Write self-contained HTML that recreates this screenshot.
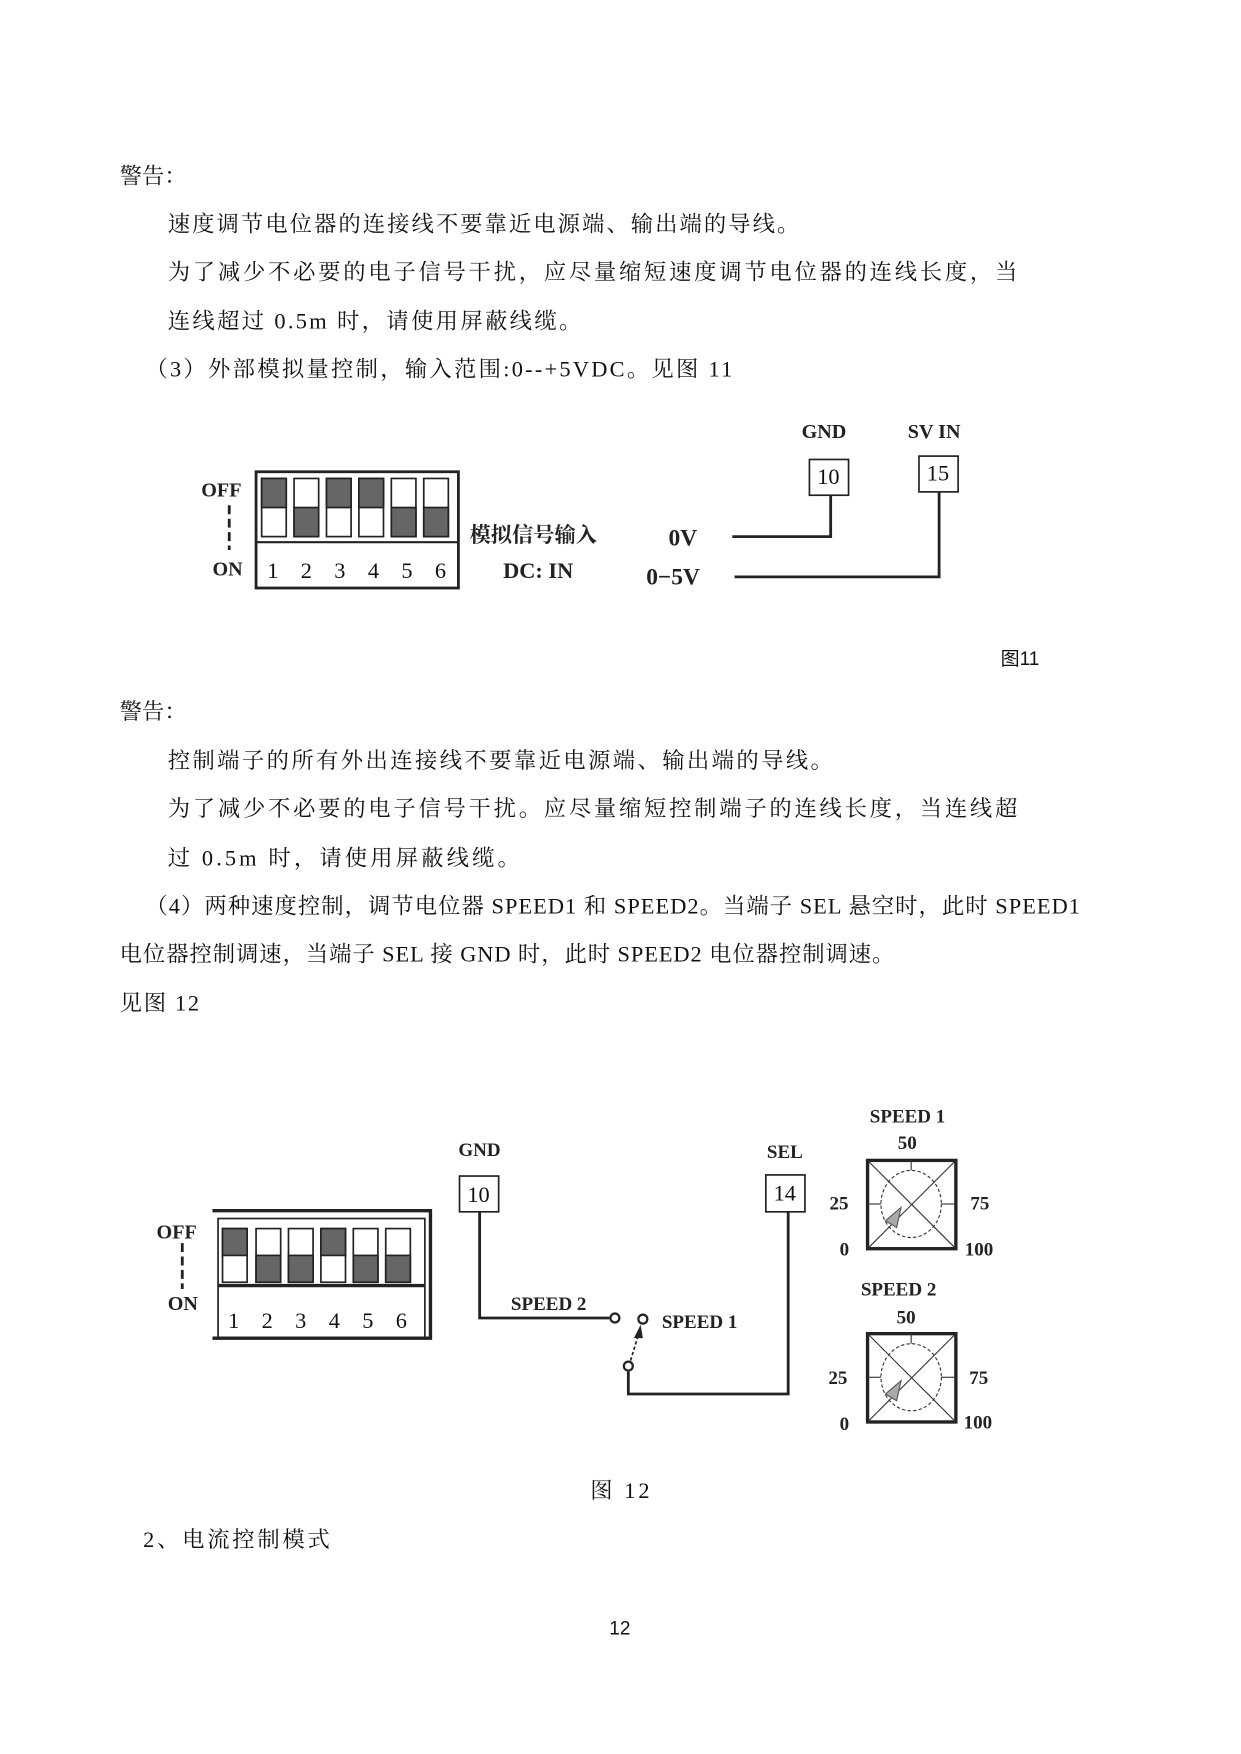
<!DOCTYPE html>
<html><head><meta charset="utf-8"><style>
html,body{margin:0;padding:0;background:#fff;}
svg{display:block}
.t{font-family:"Liberation Serif","Noto Serif CJK SC","Noto Sans CJK SC",serif;font-size:20px;fill:#111}
.s{font-family:"Liberation Sans","Noto Sans CJK SC",sans-serif;font-size:17px;fill:#111}
.d{font-family:"Liberation Serif","Noto Serif CJK SC",serif;font-weight:bold;fill:#222}
</style></head><body>
<svg width="1241" height="1754" viewBox="0 0 1110 1569" xmlns="http://www.w3.org/2000/svg">
<text class="t" x="107" y="164">警告：</text>
<text class="t" x="150" y="207" textLength="565">速度调节电位器的连接线不要靠近电源端、输出端的导线。</text>
<text class="t" x="150" y="250" textLength="760">为了减少不必要的电子信号干扰，应尽量缩短速度调节电位器的连线长度，当</text>
<text class="t" x="150" y="294" textLength="370">连线超过 0.5m 时，请使用屏蔽线缆。</text>
<text class="t" x="130" y="337" textLength="525">（3）外部模拟量控制，输入范围:0--+5VDC。见图 11</text>

<!-- Fig 11 -->
<g stroke="#222" fill="none">
<rect x="229" y="422" width="181" height="104" stroke-width="2.5"/>
<line x1="229" y1="485" x2="410" y2="485" stroke-width="2"/>
<line x1="205" y1="452" x2="205" y2="492" stroke-width="2.5" stroke-dasharray="8,4"/>
</g>
<g stroke="#222" stroke-width="1.5">
<rect x="234" y="428" width="22" height="52" fill="#fff"/><rect x="234" y="428" width="22" height="26" fill="#666"/>
<rect x="263" y="428" width="22" height="52" fill="#fff"/><rect x="263" y="454" width="22" height="26" fill="#666"/>
<rect x="292" y="428" width="22" height="52" fill="#fff"/><rect x="292" y="428" width="22" height="26" fill="#666"/>
<rect x="321" y="428" width="22" height="52" fill="#fff"/><rect x="321" y="428" width="22" height="26" fill="#666"/>
<rect x="350" y="428" width="22" height="52" fill="#fff"/><rect x="350" y="454" width="22" height="26" fill="#666"/>
<rect x="379" y="428" width="22" height="52" fill="#fff"/><rect x="379" y="454" width="22" height="26" fill="#666"/>
</g>
<text class="d" x="180" y="444" font-size="18">OFF</text>
<text class="d" x="190" y="515" font-size="18">ON</text>
<text class="t" x="239" y="517" font-size="24" letter-spacing="20">123456</text>
<text class="d" x="420" y="485" font-size="19">模拟信号输入</text>
<text class="d" x="450" y="517" font-size="20">DC: IN</text>
<text class="d" x="598" y="488" font-size="21">0V</text>
<text class="d" x="578" y="523" font-size="21">0−5V</text>
<text class="d" x="717" y="392" font-size="18">GND</text>
<text class="d" x="812" y="392" font-size="18">SV IN</text>
<g stroke="#222" fill="none" stroke-width="2.5">
<rect x="724" y="411" width="35" height="32" stroke-width="1.5"/>
<rect x="822" y="408" width="35" height="32" stroke-width="1.5"/>
<polyline points="655,480 743,480 743,443"/>
<polyline points="657,516 840,516 840,440"/>
</g>
<text class="t" x="731" y="433" font-size="18">10</text>
<text class="t" x="829" y="430" font-size="18">15</text>
<text class="s" x="895" y="595">图11</text>

<text class="t" x="107" y="643">警告：</text>
<text class="t" x="150" y="687" textLength="595">控制端子的所有外出连接线不要靠近电源端、输出端的导线。</text>
<text class="t" x="150" y="730" textLength="760">为了减少不必要的电子信号干扰。应尽量缩短控制端子的连线长度，当连线超</text>
<text class="t" x="150" y="774" textLength="315">过 0.5m 时，请使用屏蔽线缆。</text>
<text class="t" x="130" y="817" textLength="836">（4）两种速度控制，调节电位器 SPEED1 和 SPEED2。当端子 SEL 悬空时，此时 SPEED1</text>
<text class="t" x="107" y="860" textLength="693">电位器控制调速，当端子 SEL 接 GND 时，此时 SPEED2 电位器控制调速。</text>
<text class="t" x="107" y="904" textLength="71">见图 12</text>

<!-- Fig 12 -->
<g stroke="#222" fill="none">
<polyline points="190,1083 385,1083 385,1197 190,1197" stroke-width="3"/>
<rect x="195" y="1090" width="185" height="107" stroke-width="1.5"/>
<line x1="195" y1="1150" x2="380" y2="1150" stroke-width="3"/>
<line x1="163" y1="1112" x2="163" y2="1153" stroke-width="2.5" stroke-dasharray="8,4"/>
</g>
<g stroke="#222" stroke-width="1.5">
<rect x="199" y="1099" width="22" height="48" fill="#fff"/><rect x="199" y="1099" width="22" height="24" fill="#666"/>
<rect x="229" y="1099" width="22" height="48" fill="#fff"/><rect x="229" y="1123" width="22" height="24" fill="#666"/>
<rect x="258" y="1099" width="22" height="48" fill="#fff"/><rect x="258" y="1123" width="22" height="24" fill="#666"/>
<rect x="287" y="1099" width="22" height="48" fill="#fff"/><rect x="287" y="1099" width="22" height="24" fill="#666"/>
<rect x="316" y="1099" width="22" height="48" fill="#fff"/><rect x="316" y="1123" width="22" height="24" fill="#666"/>
<rect x="345" y="1099" width="22" height="48" fill="#fff"/><rect x="345" y="1123" width="22" height="24" fill="#666"/>
</g>
<text class="d" x="140" y="1108" font-size="18">OFF</text>
<text class="d" x="150" y="1172" font-size="18">ON</text>
<text class="t" x="204" y="1188" font-size="24" letter-spacing="20">123456</text>
<text class="d" x="410" y="1034" font-size="17">GND</text>
<text class="d" x="686" y="1036" font-size="17">SEL</text>
<g stroke="#222" fill="none" stroke-width="2.5">
<rect x="411" y="1052" width="35" height="32" stroke-width="1.5"/>
<rect x="685" y="1051" width="35" height="33" stroke-width="1.5"/>
<polyline points="429,1084 429,1179 545,1179"/>
<polyline points="562,1227 562,1247 705,1247 705,1084"/>
<circle cx="550" cy="1179" r="4" stroke-width="2"/>
<circle cx="575" cy="1180" r="4" stroke-width="2"/>
<circle cx="562" cy="1222" r="4" stroke-width="2"/>
<line x1="564" y1="1217" x2="571" y2="1194" stroke-width="1.5" stroke-dasharray="3,2"/>
</g>
<polygon points="573,1185 567,1197 575,1197" fill="#222"/>
<text class="t" x="418" y="1075" font-size="18">10</text>
<text class="t" x="692" y="1074" font-size="18">14</text>
<text class="d" x="457" y="1172" font-size="17">SPEED 2</text>
<text class="d" x="592" y="1188" font-size="17">SPEED 1</text>

<g id="p1">
<rect x="776" y="1038" width="79" height="79" fill="none" stroke="#222" stroke-width="3"/>
<g stroke="#333" stroke-width="1" fill="none">
<line x1="776" y1="1038" x2="855" y2="1117"/><line x1="855" y1="1038" x2="776" y2="1117"/>
<ellipse cx="815" cy="1077" rx="27" ry="30" stroke-dasharray="3,2"/>
<line x1="815" y1="1038" x2="815" y2="1047"/><line x1="776" y1="1077" x2="788" y2="1077"/><line x1="842" y1="1077" x2="855" y2="1077"/>
</g>
<polygon points="792,1092 806,1080 802,1098" fill="#aaa" stroke="#555"/>
</g>
<text class="d" x="778" y="1004" font-size="17">SPEED 1</text>
<text class="d" x="803" y="1028" font-size="17">50</text>
<text class="d" x="742" y="1082" font-size="17">25</text>
<text class="d" x="868" y="1082" font-size="17">75</text>
<text class="d" x="751" y="1123" font-size="17">0</text>
<text class="d" x="863" y="1123" font-size="17">100</text>
<use href="#p1" transform="translate(0,155)"/>
<text class="d" x="770" y="1159" font-size="17">SPEED 2</text>
<text class="d" x="802" y="1184" font-size="17">50</text>
<text class="d" x="741" y="1238" font-size="17">25</text>
<text class="d" x="867" y="1238" font-size="17">75</text>
<text class="d" x="751" y="1279" font-size="17">0</text>
<text class="d" x="862" y="1278" font-size="17">100</text>

<text class="t" x="528" y="1340" textLength="53">图 12</text>
<text class="t" x="128" y="1384" textLength="167">2、电流控制模式</text>
<text class="s" x="545" y="1462">12</text>
</svg>
</body></html>
